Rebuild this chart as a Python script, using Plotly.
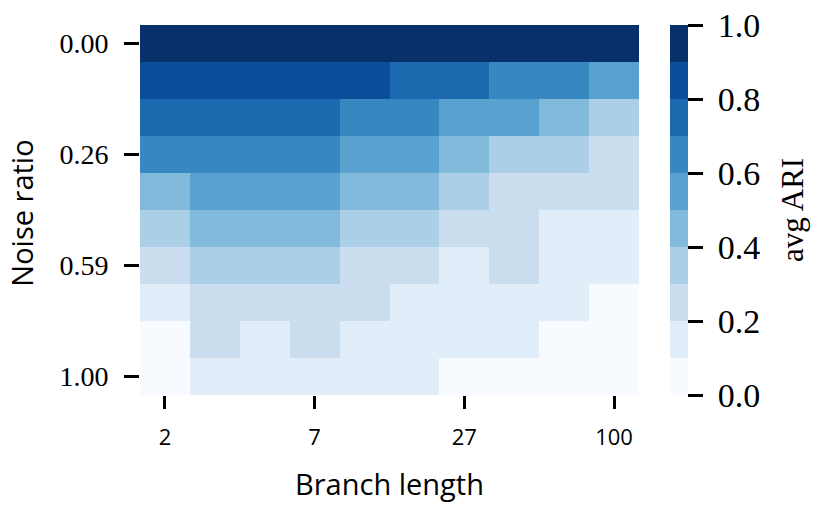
import plotly.graph_objects as go

# Branch lengths (columns) and noise ratios (rows)
branch_lengths = ["2", "3", "5", "7", "11", "18", "27", "42", "65", "100"]
noise_ratios = ["0.00", "0.08", "0.17", "0.26", "0.37", "0.48", "0.59", "0.72", "0.86", "1.00"]

x_tick_labels = ["2", "7", "27", "100"]
y_tick_labels = ["0.00", "0.26", "0.59", "1.00"]
cbar_ticks = [0, 0.2, 0.4, 0.6, 0.8, 1.0]
cbar_tick_labels = ["0.0", "0.2", "0.4", "0.6", "0.8", "1.0"]

# avg ARI values, one list per noise ratio (row)
ari_000 = [0.97, 0.97, 0.97, 0.97, 0.97, 0.96, 0.96, 0.96, 0.95, 0.95]
ari_008 = [0.86, 0.86, 0.85, 0.85, 0.84, 0.76, 0.74, 0.67, 0.65, 0.57]
ari_017 = [0.76, 0.76, 0.75, 0.75, 0.67, 0.65, 0.57, 0.55, 0.46, 0.36]
ari_026 = [0.66, 0.66, 0.65, 0.65, 0.57, 0.55, 0.46, 0.36, 0.34, 0.26]
ari_037 = [0.46, 0.56, 0.55, 0.55, 0.46, 0.45, 0.36, 0.26, 0.25, 0.24]
ari_048 = [0.36, 0.46, 0.45, 0.45, 0.36, 0.35, 0.26, 0.25, 0.16, 0.15]
ari_059 = [0.26, 0.36, 0.35, 0.35, 0.26, 0.25, 0.16, 0.25, 0.15, 0.14]
ari_072 = [0.16, 0.26, 0.25, 0.25, 0.24, 0.16, 0.15, 0.15, 0.14, 0.06]
ari_086 = [0.06, 0.25, 0.16, 0.24, 0.16, 0.15, 0.14, 0.14, 0.06, 0.05]
ari_100 = [0.05, 0.15, 0.15, 0.14, 0.14, 0.13, 0.06, 0.05, 0.05, 0.04]

z = [ari_000, ari_008, ari_017, ari_026, ari_037,
     ari_048, ari_059, ari_072, ari_086, ari_100]

bin_colors = ["#f7fbff", "#e1edf8", "#cbdef0", "#abcfe6", "#82badb",
              "#59a1cf", "#3787c0", "#1b6aaf", "#0a4e9a", "#08306b"]
colorscale = []
for i, c in enumerate(bin_colors):
    colorscale.append([i / 10, c])
    colorscale.append([(i + 1) / 10, c])

serif = "Liberation Serif"
sans = "Open Sans"

W, H = 812, 499
L, T, PW, PH = 132, 17, 499, 370

fig = go.Figure(go.Heatmap(
    x=branch_lengths, y=noise_ratios, z=z,
    zmin=0, zmax=1, colorscale=colorscale,
    colorbar=dict(
        x=(662 - L) / PW, xanchor="left", xref="paper", xpad=0, ypad=0,
        y=0.5, yanchor="middle", len=1, lenmode="fraction",
        thickness=18, outlinewidth=0,
        tickmode="array", tickvals=cbar_ticks,
        ticktext=["\u00a0" + t for t in cbar_tick_labels],
        ticks="outside", ticklen=15, tickwidth=3, tickcolor="black",
        ticklabeloverflow="allow",
        tickfont=dict(family=serif, size=34, color="black"),
    ),
    hoverongaps=False,
))

fig.add_annotation(
    text="avg ARI", xref="paper", yref="paper",
    x=(784 - L) / PW, y=0.5, xanchor="center", yanchor="middle",
    textangle=-90, showarrow=False,
    font=dict(family=serif, size=31, color="black"),
)

fig.add_annotation(
    text="Noise ratio", xref="paper", yref="paper",
    x=(14 - L) / PW, y=0.49, xanchor="center", yanchor="middle",
    textangle=-90, showarrow=False,
    font=dict(family=sans, size=29, color="black"),
)

fig.update_layout(
    width=W, height=H,
    margin=dict(l=L, r=W - L - PW, t=T, b=H - T - PH, autoexpand=False),
    paper_bgcolor="white", plot_bgcolor="white",
    xaxis=dict(
        type="category", tickmode="array", tickvals=x_tick_labels,
        ticktext=x_tick_labels, ticks="outside", ticklen=13, tickwidth=3,
        tickcolor="black", showgrid=False, zeroline=False, showline=False,
        tickfont=dict(family=sans, size=22, color="black"),
        ticklabelstandoff=10, automargin=True,
        title=dict(text="Branch length", standoff=24,
                   font=dict(family=sans, size=29, color="black")),
    ),
    yaxis=dict(
        type="category", autorange="reversed", tickmode="array",
        tickvals=y_tick_labels, ticktext=y_tick_labels,
        ticks="outside", ticklen=15, tickwidth=3, tickcolor="black",
        showgrid=False, zeroline=False, showline=False,
        tickfont=dict(family=serif, size=28, color="black"),
        ticklabelstandoff=10, automargin=True,
    ),
)

fig.write_html("out.html")
